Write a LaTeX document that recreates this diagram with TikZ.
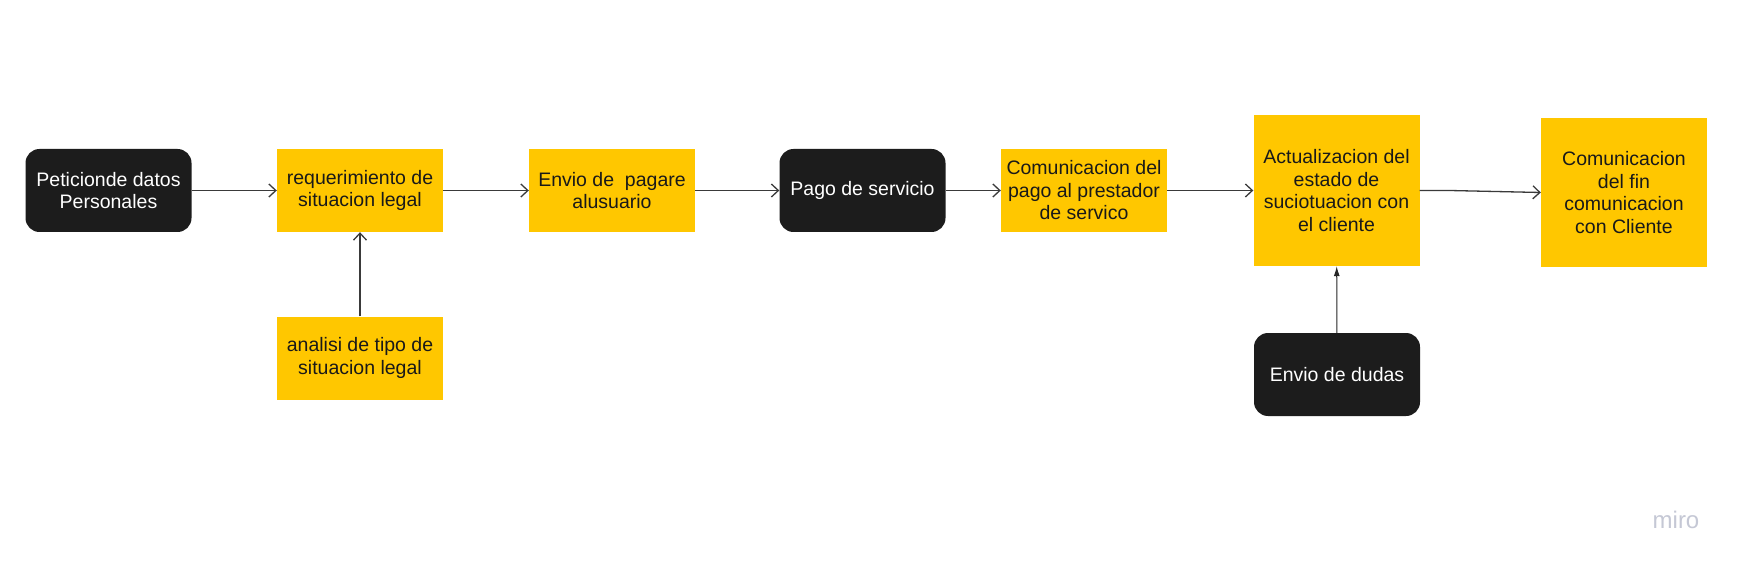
\documentclass[tikz,border=0pt]{standalone}
\usepackage{fontspec}
\setmainfont{Liberation Sans}
\usetikzlibrary{arrows.meta}
\definecolor{myyellow}{HTML}{FFC700}
\definecolor{mydark}{HTML}{1C1C1C}
\definecolor{linegray}{HTML}{3A3A3A}
\definecolor{mirogray}{HTML}{C5C8D5}
\begin{document}
\begin{tikzpicture}[x=1pt,y=-1pt,
 base/.style={inner sep=0pt, align=center, font=\fontsize{19.5}{22.5}\selectfont},
 ybox/.style={base, fill=myyellow, text=black!90, minimum width=166pt, minimum height=83pt},
 bigbox/.style={ybox, minimum height=151pt},
 dbox/.style={base, fill=mydark, text=white, rounded corners=14pt, minimum width=166pt, minimum height=83pt},
 flow/.style={draw=linegray, line width=1.3pt, -{Straight Barb[length=7pt,width=13pt]}},
 inflow/.style={draw=black!85, line width=1pt, -{Latex[length=10pt,width=6pt]}}]
\useasboundingbox[fill=white] (0,0) rectangle (1746,572);

\node[dbox] (pet) at (108.5,190.5) {Peticionde datos\\Personales};
\node[ybox] (req) at (360,190.5) {requerimiento de\\situacion legal};
\node[ybox] (ana) at (360,358) {analisi de tipo de\\situacion legal};
\node[ybox] (env) at (612,190.5) {Envio de\ \ pagare\\alusuario};
\node[dbox] (pago) at (862.5,190.5) {Pago de servicio};
\node[ybox] (com) at (1084,190.5) {Comunicacion del\\pago al prestador\\de servico};
\node[bigbox] (act) at (1336.5,190.5) {Actualizacion del\\estado de\\suciotuacion con\\el cliente};
\node[bigbox, minimum height=149pt] (fin) at (1624,192.5) {Comunicacion\\del fin\\comunicacion\\con Cliente};
\node[dbox] (dud) at (1337,374.5) {Envio de dudas};

\node[font=\fontsize{24}{24}\selectfont, text=mirogray] (miro) at (1676,520) {miro};

\draw[flow] (pet) -- (req);
\draw[flow] (ana) -- (req);
\draw[flow] (req) -- (env);
\draw[flow] (env) -- (pago);
\draw[flow] (pago) -- (com);
\draw[flow] (com) -- (act);
\coordinate (k) at ([xshift=30pt]act.east);
\draw[flow] (act.east) -- (k) -- (fin.west);
\draw[inflow] (dud) -- (act);
\end{tikzpicture}
\end{document}
